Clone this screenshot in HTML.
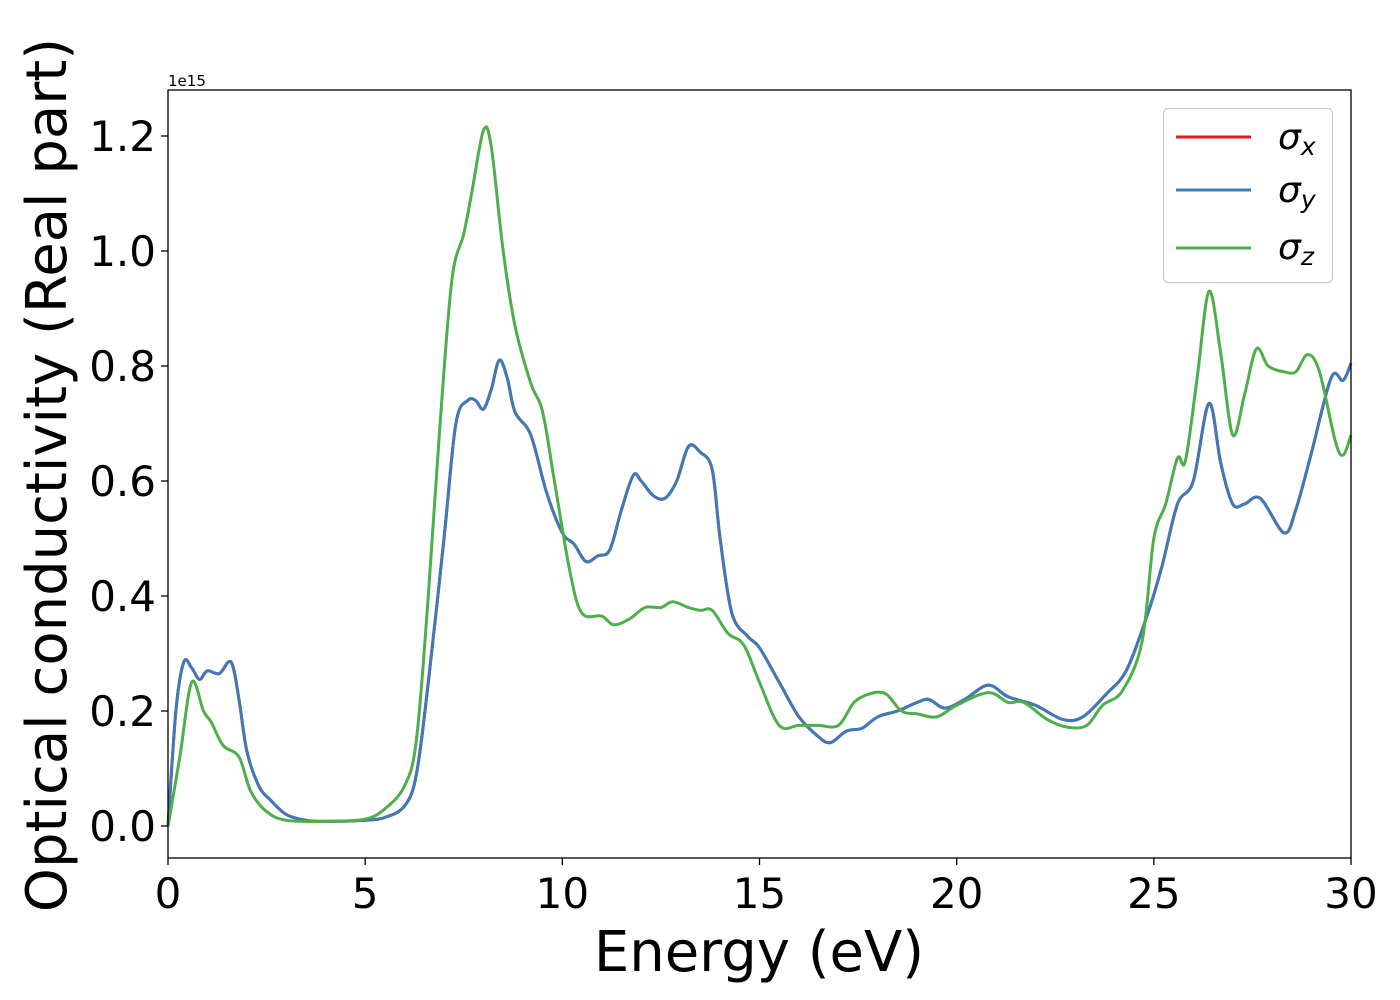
<!DOCTYPE html>
<html><head><meta charset="utf-8"><style>
html,body{margin:0;padding:0;background:#fff;width:1400px;height:1000px;overflow:hidden}
svg text{font-family:"DejaVu Sans","Liberation Sans",sans-serif;fill:#000}
</style></head><body>
<svg id="chart" width="1400" height="1000" viewBox="0 0 1400 1000">
<rect x="0" y="0" width="1400" height="1000" fill="#fff"/>
<g id="plot"></g>
<rect x="168" y="90" width="1183" height="768" fill="none" stroke="#000" stroke-width="1.3"/>
<g id="ticks"></g>
<text x="168" y="86" font-size="15">1e15</text>
<text x="759" y="971" font-size="56" text-anchor="middle">Energy (eV)</text>
<text transform="translate(66,475) rotate(-90)" font-size="56" text-anchor="middle">Optical conductivity (Real part)</text>
<g>
<rect x="1163.5" y="108.5" width="169" height="174" rx="5" fill="#fff" stroke="#ccc" stroke-width="1.3"/>
<line x1="1176" y1="137" x2="1251" y2="137" stroke="#e41a1c" stroke-width="3"/>
<text x="1278" y="149" font-size="36" font-style="italic">σ<tspan font-size="25" dy="6">x</tspan></text>
<line x1="1176" y1="190" x2="1251" y2="190" stroke="#3d7ab8" stroke-width="3"/>
<text x="1278" y="202" font-size="36" font-style="italic">σ<tspan font-size="25" dy="6">y</tspan></text>
<line x1="1176" y1="248" x2="1251" y2="248" stroke="#4daf4a" stroke-width="3"/>
<text x="1278" y="259" font-size="36" font-style="italic">σ<tspan font-size="25" dy="6">z</tspan></text>
</g>
</svg>
<script>
const xTicks=[0,5,10,15,20,25,30];
const yTicks=[0.0,0.2,0.4,0.6,0.8,1.0,1.2];
const yTickLabels=["0.0","0.2","0.4","0.6","0.8","1.0","1.2"];
const energyXY=[0,0.2,0.4,0.6,0.8,1.0,1.3,1.6,1.8,2.0,2.3,2.6,3.0,3.5,4,5,5.5,6.0,6.3,6.6,7.0,7.3,7.6,7.8,8.0,8.2,8.4,8.6,8.8,9.2,9.6,10.0,10.3,10.6,10.9,11.2,11.5,11.8,12.0,12.3,12.6,12.9,13.2,13.5,13.8,14.0,14.3,14.7,15.0,15.5,16.0,16.5,16.8,17.2,17.6,18.0,18.5,19.0,19.3,19.7,20.2,20.8,21.3,22.0,22.7,23.2,23.8,24.3,24.8,25.2,25.6,26.0,26.4,26.7,27.0,27.3,27.7,28.3,28.6,29.0,29.5,29.8,30];
const sigmaXY=[0,0.2,0.285,0.275,0.255,0.27,0.265,0.285,0.22,0.13,0.07,0.045,0.02,0.01,0.008,0.01,0.015,0.035,0.09,0.25,0.5,0.7,0.74,0.74,0.725,0.76,0.81,0.78,0.72,0.68,0.58,0.51,0.49,0.46,0.47,0.48,0.55,0.61,0.6,0.575,0.57,0.6,0.66,0.65,0.62,0.5,0.37,0.33,0.31,0.25,0.19,0.155,0.145,0.165,0.17,0.19,0.2,0.215,0.22,0.205,0.22,0.245,0.225,0.21,0.185,0.19,0.23,0.27,0.36,0.45,0.56,0.6,0.735,0.63,0.56,0.56,0.57,0.51,0.55,0.65,0.78,0.775,0.805];
const energyZ=[0,0.3,0.6,0.9,1.1,1.4,1.8,2.1,2.5,3,4,5,5.5,6.0,6.3,6.6,6.9,7.2,7.5,7.7,8.0,8.2,8.5,8.8,9.2,9.5,9.8,10.2,10.5,11.0,11.3,11.7,12.1,12.5,12.8,13.2,13.5,13.8,14.2,14.6,15.0,15.5,16.0,16.5,17.0,17.4,17.8,18.2,18.6,19.0,19.5,20.0,20.8,21.3,21.7,22.3,22.8,23.3,23.7,24.2,24.7,25.0,25.3,25.6,25.8,26.1,26.4,26.7,27.0,27.3,27.6,27.9,28.3,28.6,28.9,29.2,29.6,29.8,30];
const sigmaZ=[0,0.12,0.25,0.2,0.18,0.14,0.12,0.06,0.025,0.01,0.008,0.012,0.03,0.07,0.15,0.4,0.7,0.95,1.03,1.1,1.21,1.18,1.0,0.87,0.77,0.72,0.6,0.44,0.37,0.365,0.35,0.36,0.38,0.38,0.39,0.38,0.375,0.375,0.335,0.315,0.25,0.175,0.175,0.175,0.175,0.215,0.23,0.23,0.2,0.195,0.19,0.21,0.232,0.215,0.215,0.185,0.172,0.175,0.21,0.235,0.32,0.5,0.56,0.64,0.635,0.78,0.93,0.82,0.68,0.75,0.83,0.8,0.79,0.79,0.82,0.79,0.67,0.645,0.68];
const NS="http://www.w3.org/2000/svg";
const X0=168,X1=1351,Y0=826,YS=575;
function xs(v){return X0+(v-0)/30*(X1-X0);}
function ys(v){return Y0-v*YS;}
function pathFor(xa,ya){
  const p=xa.map((x,i)=>[xs(x),ys(ya[i])]);
  let d="M"+p[0][0].toFixed(1)+","+p[0][1].toFixed(1);
  for(let i=0;i<p.length-1;i++){
    const a=p[Math.max(0,i-1)],b=p[i],c=p[i+1],e=p[Math.min(p.length-1,i+2)];
    const c1=[b[0]+(c[0]-a[0])/6,b[1]+(c[1]-a[1])/6];
    const c2=[c[0]-(e[0]-b[0])/6,c[1]-(e[1]-b[1])/6];
    d+="C"+c1[0].toFixed(1)+","+c1[1].toFixed(1)+" "+c2[0].toFixed(1)+","+c2[1].toFixed(1)+" "+c[0].toFixed(1)+","+c[1].toFixed(1);
  }
  return d;
}
const plot=document.getElementById("plot");
function addLine(xa,ya,color,name){
  const el=document.createElementNS(NS,"path");
  
  
  el.setAttribute("d",pathFor(xa,ya));
  el.setAttribute("fill","none");
  el.setAttribute("stroke",color);
  el.setAttribute("stroke-width","3");
  el.setAttribute("stroke-linejoin","round");
  plot.appendChild(el);
}
addLine(energyXY,sigmaXY,"#e41a1c","series-sigma-x");
addLine(energyXY,sigmaXY,"#3d7ab8","series-sigma-y");
addLine(energyZ,sigmaZ,"#4daf4a","series-sigma-z");
const tg=document.getElementById("ticks");
xTicks.forEach(v=>{
  const l=document.createElementNS(NS,"line");
  
  
  l.setAttribute("x1",xs(v));l.setAttribute("x2",xs(v));l.setAttribute("y1",858);l.setAttribute("y2",865);
  l.setAttribute("stroke","#000");l.setAttribute("stroke-width","1.3");tg.appendChild(l);
  const t=document.createElementNS(NS,"text");
  
  
  t.setAttribute("x",xs(v));t.setAttribute("y",908);t.setAttribute("font-size","42");t.setAttribute("text-anchor","middle");
  t.textContent=String(v);tg.appendChild(t);
});
yTicks.forEach((v,i)=>{
  const l=document.createElementNS(NS,"line");
  
  
  l.setAttribute("x1",161);l.setAttribute("x2",168);l.setAttribute("y1",ys(v));l.setAttribute("y2",ys(v));
  l.setAttribute("stroke","#000");l.setAttribute("stroke-width","1.3");tg.appendChild(l);
  const t=document.createElementNS(NS,"text");
  
  
  t.setAttribute("x",156);t.setAttribute("y",ys(v)+15);t.setAttribute("font-size","42");t.setAttribute("text-anchor","end");
  t.textContent=yTickLabels[i];tg.appendChild(t);
});
</script>
</body></html>
